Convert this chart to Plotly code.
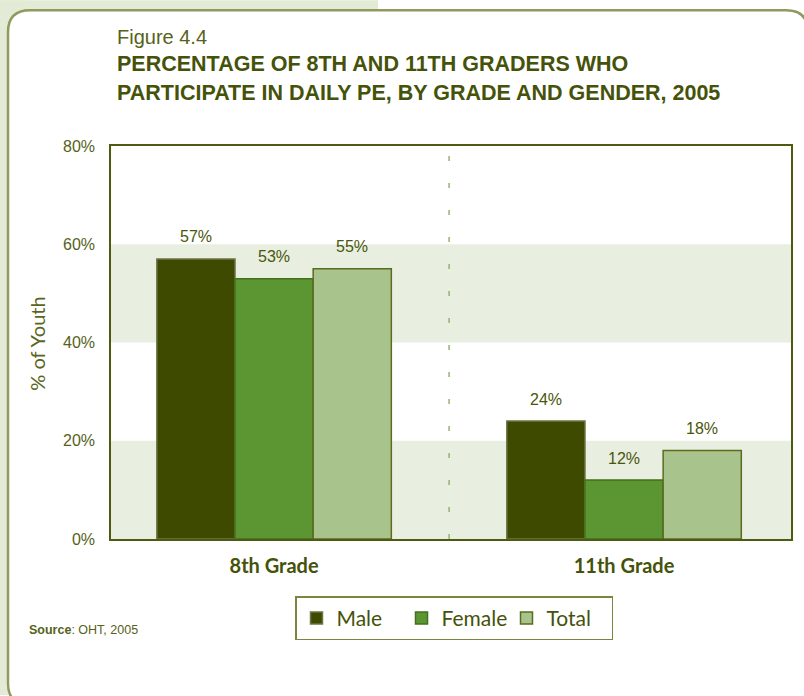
import plotly.graph_objects as go

# Data
grades = ["8th Grade", "11th Grade"]
series_names = ["Male", "Female", "Total"]
male = [57, 24]
female = [53, 12]
total = [55, 18]
y_ticks = [0, 20, 40, 60, 80]
y_tick_labels = ["0%", "20%", "40%", "60%", "80%"]

series_values = [male, female, total]
fill_colors = ["#3d4a00", "#5b9633", "#a8c48c"]
edge_colors = ["#6d7445", "#466f1c", "#5c6b1f"]

# Canvas and plot-area geometry (pixels)
W, H = 804, 696
L, R, T, B = 111, 791, 146, 539.5

COND = "Liberation Sans, Arial, sans-serif"
REG = "Lato, Open Sans, sans-serif"
OLIVE = "#4a560c"


def px(x):
    return (x - L) / (R - L)


def py(y):
    return (B - y) / (B - T)


bargap = 0.33
bar_w = (1 - bargap) / len(series_names)
xpos = list(range(len(grades)))

fig = go.Figure()
for name, vals, fc, ec in zip(series_names, series_values, fill_colors, edge_colors):
    fig.add_trace(go.Bar(
        x=xpos, y=vals, name=name,
        marker=dict(color=fc, line=dict(color=ec, width=1.5)),
        hoverinfo="skip",
    ))

annotations = []
# value labels above bars
for i, vals in enumerate(series_values):
    for g, v in zip(xpos, vals):
        annotations.append(dict(
            x=g + (i - 1) * bar_w, y=v, xref="x", yref="y",
            text=f"{v}%", showarrow=False, yanchor="middle", yshift=22,
            font=dict(family=COND, size=16, color=OLIVE),
        ))

# headings
annotations += [
    dict(x=px(115), y=py(37), xref="paper", yref="paper", xanchor="left", yanchor="middle",
         text="Figure 4.4", showarrow=False,
         font=dict(family=COND, size=20, color="#56621a")),
    dict(x=px(115), y=py(64), xref="paper", yref="paper", xanchor="left", yanchor="middle",
         text="<b>PERCENTAGE OF 8TH AND 11TH GRADERS WHO</b>", showarrow=False,
         font=dict(family=COND, size=21.5, color="#45520a")),
    dict(x=px(115), y=py(93), xref="paper", yref="paper", xanchor="left", yanchor="middle",
         text="<b>PARTICIPATE IN DAILY PE, BY GRADE AND GENDER, 2005</b>", showarrow=False,
         font=dict(family=COND, size=21.5, color="#45520a")),
    dict(x=px(37), y=py(344), xref="paper", yref="paper", xanchor="center", yanchor="middle",
         text="% of Youth", showarrow=False, textangle=-90,
         font=dict(family=REG, size=20, color="#5a6620")),
    dict(x=px(27), y=py(631), xref="paper", yref="paper", xanchor="left", yanchor="middle",
         text="<b>Source</b>: OHT, 2005", showarrow=False,
         font=dict(family=COND, size=12.5, color="#56621a")),
]

# page background, panel and chart bands
def P(x, y):
    return f"{px(x):.5f},{py(y):.5f}"


r = 22
x0, y0, x1, y1 = 8, 10, 808, 706
panel_path = (
    f"M {P(x0 + r, y0)} L {P(x1 - r, y0)} Q {P(x1, y0)} {P(x1, y0 + r)} "
    f"L {P(x1, y1 - r)} Q {P(x1, y1)} {P(x1 - r, y1)} "
    f"L {P(x0 + r, y1)} Q {P(x0, y1)} {P(x0, y1 - r)} "
    f"L {P(x0, y0 + r)} Q {P(x0, y0)} {P(x0 + r, y0)} Z"
)

shapes = [
    dict(type="rect", xref="paper", yref="paper", x0=px(0), x1=px(378), y0=py(0), y1=py(40),
         fillcolor="#e3ebd6", line=dict(width=0), layer="below"),
    dict(type="rect", xref="paper", yref="paper", x0=px(0), x1=px(30), y0=py(0), y1=py(H),
         fillcolor="#e3ebd6", line=dict(width=0), layer="below"),
    dict(type="path", xref="paper", yref="paper", path=panel_path,
         fillcolor="white", line=dict(color="#8e9a5e", width=2.5), layer="below"),
]
for lo, hi in [(0, 20), (40, 60)]:
    shapes.append(dict(type="rect", xref="paper", yref="y", x0=0, x1=1, y0=lo, y1=hi,
                       fillcolor="#e8eee0", line=dict(width=0), layer="below"))
shapes.append(dict(type="line", xref="x", yref="y", x0=0.5, x1=0.5, y0=0, y1=80,
                   line=dict(color="#93b472", width=1.5, dash="5px,22px"), layer="below"))

fig.update_layout(
    width=W, height=H,
    margin=dict(l=L, r=W - R, t=T, b=H - B, pad=0),
    paper_bgcolor="white",
    plot_bgcolor="rgba(0,0,0,0)",
    barmode="group", bargap=bargap, bargroupgap=0,
    shapes=shapes, annotations=annotations,
    xaxis=dict(
        range=[-0.466, 1.477], tickvals=xpos, ticktext=[f"<b>{g}</b>" for g in grades],
        showline=True, mirror=True, linecolor="#4d5a10", linewidth=1.5,
        showgrid=False, zeroline=False, ticks="", ticklabelstandoff=8,
        tickfont=dict(family=REG, size=20, color="#45520a"),
    ),
    yaxis=dict(
        range=[0, 80], tickvals=y_ticks, ticktext=y_tick_labels,
        showline=True, mirror=True, linecolor="#4d5a10", linewidth=1.5,
        showgrid=False, zeroline=False, ticks="", ticklabelstandoff=11,
        tickfont=dict(family=COND, size=16, color="#56621a"),
    ),
    legend=dict(
        orientation="h", x=px(295), xanchor="left", y=py(597), yanchor="top",
        bgcolor="white", bordercolor="#7a8540", borderwidth=1.5,
        font=dict(family=REG, size=21, color="#45520a"),
        itemwidth=30, entrywidth=60, traceorder="normal",
    ),
    showlegend=True,
)

fig.write_html("out.html")
